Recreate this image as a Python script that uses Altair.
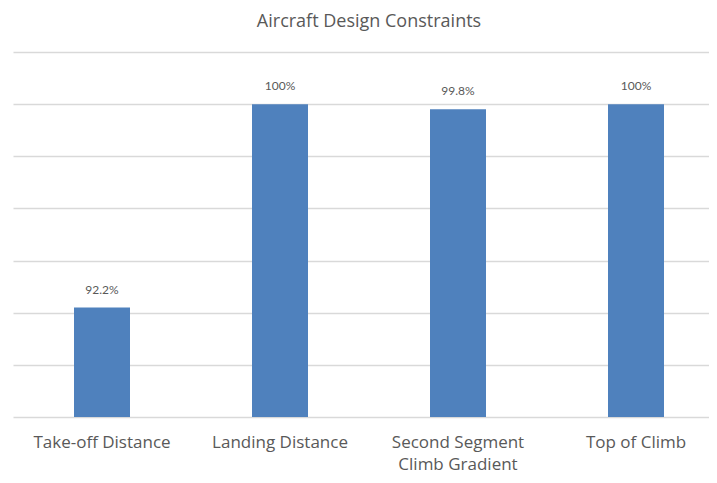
import altair as alt
import pandas as pd

categories = ["Take-off Distance", "Landing Distance", "Second Segment|Climb Gradient", "Top of Climb"]
values = [92.2, 100.0, 99.8, 100.0]
y_ticks = [88, 90, 92, 94, 96, 98, 100, 102]

df = pd.DataFrame({"category": categories, "value": values})

FONT = "Open Sans"
NUM_FONT = "Lato"

base = alt.Chart(df).encode(
    x=alt.X("category:N", sort=categories,
            scale=alt.Scale(paddingInner=0, paddingOuter=0),
            axis=alt.Axis(title=None, labelAngle=0, domain=False, ticks=False,
                          labelExpr="split(datum.label, '|')",
                          labelFont=FONT, labelFontSize=17, labelColor="#595959",
                          labelPadding=17, labelLineHeight=22, labelLimit=300))
)

bars = base.mark_bar(size=56, color="#4F81BD").encode(
    y=alt.Y("value:Q", scale=alt.Scale(domain=[88, 102], zero=False, nice=False),
            axis=alt.Axis(title=None, values=y_ticks, labels=False, ticks=False,
                          domain=False, grid=True, gridColor="#D9D9D9", gridWidth=1.3)),
    y2=alt.datum(88),
)

text = base.mark_text(dy=-14, baseline="alphabetic", font=NUM_FONT, fontSize=12,
                      color="#595959").transform_calculate(
    label="datum.value + '%'"
).encode(
    y=alt.Y("value:Q"),
    text="label:N",
)

chart = (bars + text).properties(
    width=712,
    height=365,
    padding={"left": 5, "top": 5, "right": -16, "bottom": 2},
    title=alt.TitleParams("Aircraft Design Constraints", font=FONT, fontSize=18,
                          fontWeight="normal", color="#595959", offset=21),
).configure_view(stroke=None)

chart.save("out.html", embed_options={"renderer": "svg", "actions": False})
